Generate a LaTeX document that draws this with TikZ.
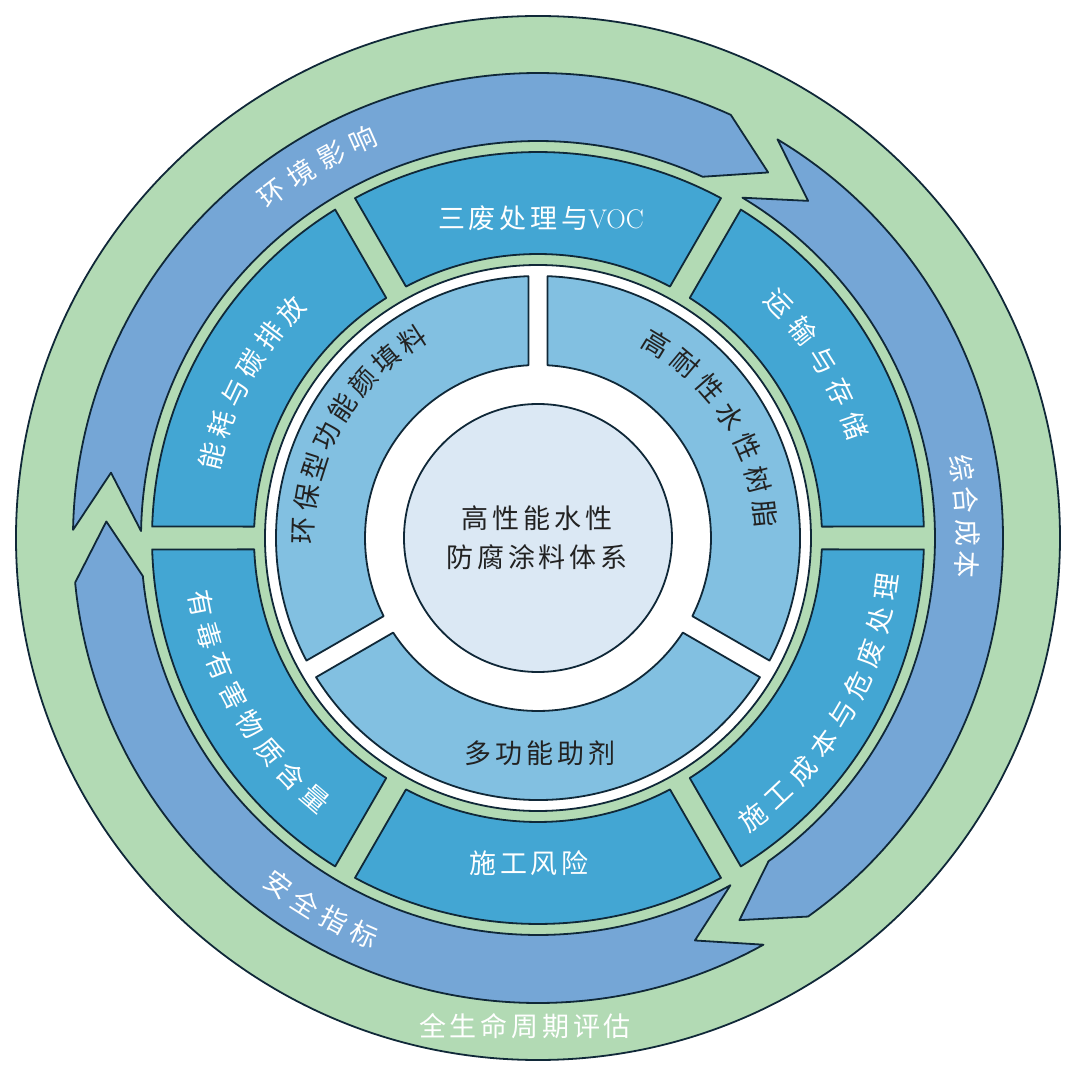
\documentclass[tikz,border=0pt]{standalone}
\usepackage{fontspec}
\usepackage{xcolor}
\newfontfamily\cjk{Noto Sans CJK SC}
\newfontfamily\cjkwide[LetterSpace=14]{Noto Sans CJK SC}
\definecolor{ringgreen}{RGB}{178,218,180}
\definecolor{arrowblue}{RGB}{117,166,214}
\definecolor{segdark}{RGB}{67,166,211}
\definecolor{seglight}{RGB}{130,192,225}
\definecolor{corefill}{RGB}{219,232,244}
\definecolor{edgeblue}{RGB}{16,40,56}
\definecolor{inktext}{RGB}{34,34,34}
\newcommand\arclabel[7]{%
  \foreach \ch [count=\i from 0] in {#7} {
    \pgfmathsetmacro\ang{#4+\i*(#5)}
    \node [#2, rotate={\ang+(#6)}] (#1\i) at (\ang:#3pt) {\ch};
  }}

\begin{document}
\begin{tikzpicture}[
    edge/.style={draw=edgeblue, line width=1.8pt, line join=round},
    chr/.style={font=\cjk\fontsize{27}{30}\selectfont, inner sep=0pt},
    lbl/.style={font=\cjkwide\fontsize{27}{39}\selectfont, inner sep=0pt}]
    \useasboundingbox (-538pt,-533pt) rectangle (542pt,538pt);
    \path [edge, fill=ringgreen] (0,0) circle [radius=522pt];
    \foreach \t in {179,59,-61}
        \path [edge, fill=arrowblue] (\t:465pt) arc [start angle=\t, delta angle=-113.5, radius=465pt]
            -- (\t-121.2:432pt) -- (\t-113.5:397pt) arc [start angle=\t-113.5, delta angle=113.5, radius=397pt]
            -- (\t-7.7:432pt) -- cycle;
    \foreach \a in {0,60,...,300}
        \path [edge, fill=segdark] (\a+1.7:386pt) arc [start angle=\a+1.7, end angle=\a+58.3, radius=386pt]
            -- (\a+57.7:284pt) arc [start angle=\a+57.7, end angle=\a+2.3, radius=284pt] -- cycle;
    \path [edge, fill=white] (0,0) circle [radius=273pt];
    \foreach \a in {-30,90,210}
        \path [edge, fill=seglight] (\a+2.1:262pt) arc [start angle=\a+2.1, end angle=\a+117.9, radius=262pt]
            -- (\a+116.85:173pt) arc [start angle=\a+116.85, end angle=\a+3.15, radius=173pt] -- cycle;
    \path [edge, fill=corefill] (0,0) circle [radius=134pt];

    \node [lbl, text=inktext, align=center] (core) at (-1pt,0pt) {高性能水性\\防腐涂料体系};
    \node [lbl, text=inktext] (zj) at (2pt,-215pt) {多功能助剂};
    \node [lbl, text=white] (sf) at (3pt,320pt) {三废处理与{\rmfamily\fontsize{27}{30}\selectfont VOC}};
    \node [lbl, text=white] (fx) at (-9pt,-325pt) {施工风险};
    \node [lbl, text=white] (qs) at (-13pt,-488pt) {全生命周期评估};

    \arclabel{nh}{chr, text=white}{336}{165.9}{-5.72}{-90}{能,耗,与,碳,排,放}
    \arclabel{ys}{chr, text=white}{336}{44.2}{-6.15}{-90}{运,输,与,存,储}
    \arclabel{cb}{chr, text=white}{352}{-52.4}{5.55}{90}{施,工,成,本,与,危,废,处,理}
    \arclabel{yd}{chr, text=white}{343}{191}{5.49}{90}{有,毒,有,害,物,质,含,量}
    \arclabel{hj}{chr, text=white}{435}{127.6}{-4.63}{-90}{环,境,影,响}
    \arclabel{zh}{chr, text=white}{430}{9.3}{-4.3}{-90}{综,合,成,本}
    \arclabel{aq}{chr, text=white}{433}{233.2}{4.37}{90}{安,全,指,标}
    \arclabel{tl}{chr, text=inktext}{235}{178.1}{-7.96}{-90}{环,保,型,功,能,颜,填,料}
    \arclabel{sz}{chr, text=inktext}{228}{58.6}{-8.75}{-90}{高,耐,性,水,性,树,脂}
\end{tikzpicture}
\end{document}
